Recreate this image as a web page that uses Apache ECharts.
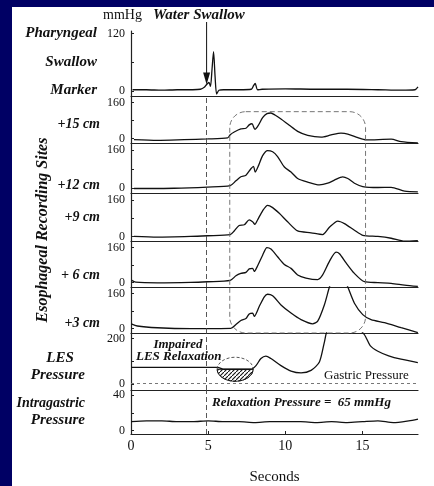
<html>
<head>
<meta charset="UTF-8">
<script src="https://cdn.jsdelivr.net/npm/echarts@6/dist/echarts.min.js"></script>
<title>LES relaxation</title>
<style>
  body { margin: 0; background: #fff; }
</style>
</head>
<body>
<div id="main" style="width: 434px; height: 486px;"></div>
<script type="text/javascript">
	// time axis, seconds
	var secMax = 18.6;
	var swallowAt = 4.9;
	var boxFrom = 6.4, boxTo = 15.2;

	// pharyngeal swallow marker (mmHg)
	var phT = [0.1, 1, 2, 3, 4, 4.5, 4.75, 4.9, 5.05, 5.15, 5.25, 5.35, 5.45, 5.55, 5.7, 6, 7, 7.8, 7.95, 8.05, 8.2, 8.5, 10, 12, 14, 16, 17.5, 18.4, 18.6];
	var phV = [3, 3, 2, 3, 3, 4, 8, 14, 18, 10, 45, 82, 30, -6, 2, 3, 3, 4, 12, 16, 3, 4, 5, 4, 4, 3, 2, 3, 9];

	// esophageal recording sites (mmHg)
	var s15T = [0.19, 1.71, 3.44, 4.96, 6.26, 6.43, 6.69, 7.12, 7.45, 7.66, 7.84, 8.03, 8.25, 8.53, 8.81, 9.07, 9.33, 9.72, 10.26, 10.8, 11.45, 12.32, 12.97, 13.61, 14.05, 14.7, 15.24, 16.86, 17.51, 18.59];
	var s15V = [-5, -8, -5, -2, 3, 17, 29, 43, 46, 61, 66, 41, 59, 93, 111, 114, 105, 87, 59, 32, 14, 6, 16, 24, 20, 4, -6, -3, -14, -20];

	var s12T = [0.19, 2.79, 4.96, 6.43, 6.8, 7.12, 7.45, 7.77, 7.94, 8.05, 8.27, 8.53, 8.85, 9.18, 9.5, 9.94, 10.37, 10.8, 11.45, 12.21, 12.75, 13.18, 13.72, 14.05, 14.48, 15.02, 16, 16.86, 17.73, 18.59];
	var s12V = [-1, 0, 5, 11, 31, 48, 55, 82, 92, 68, 96, 137, 158, 153, 133, 89, 68, 41, 26, 14, 21, 34, 48, 41, 21, 7, 3, 4, -12, -15];

	var s9T = [0.19, 1.71, 3.87, 4.96, 6.43, 6.69, 7.01, 7.34, 7.66, 7.88, 8.03, 8.2, 8.53, 8.85, 9.18, 9.61, 10.15, 10.8, 11.67, 12.42, 12.86, 13.4, 13.83, 14.48, 15.02, 16, 16.86, 17.73, 18.59];
	var s9V = [0, -3, 0, 3, 8, 24, 48, 51, 72, 64, 53, 72, 112, 136, 126, 101, 64, 24, 16, 8, 40, 67, 56, 27, 5, 0, -8, -21, -18];

	var s6T = [0.05, 0.3, 1.71, 3.87, 4.96, 6.43, 6.8, 7.12, 7.45, 7.66, 7.88, 7.99, 8.2, 8.53, 8.81, 9.07, 9.5, 9.94, 10.37, 10.8, 11.34, 12.1, 12.42, 12.86, 13.29, 13.51, 13.94, 14.48, 15.13, 16, 16.86, 17.73, 18.59];
	var s6V = [10, 2, -1, 1, 4, 10, 31, 42, 47, 63, 65, 51, 76, 125, 160, 153, 118, 83, 65, 35, 21, 14, 35, 97, 139, 132, 90, 42, 4, 0, -3, -11, -17];

	var s3T = [0.02, 0.41, 1.71, 3.87, 6.47, 6.8, 7.12, 7.45, 7.66, 7.88, 7.99, 8.31, 8.64, 8.85, 9.18, 9.72, 10.37, 11.02, 11.77, 12.1, 12.53, 12.86, 13.4, 14.05, 14.48, 15.02, 15.56, 16.43, 17.51, 18.59];
	var s3V = [22, 12, 4, 0, 1, 19, 37, 46, 67, 71, 56, 101, 145, 157, 150, 108, 71, 41, 22, 34, 108, 190, 300, 190, 116, 64, 41, 27, 4, -18];

	// LES pressure (mmHg)
	var lesT = [0.02, 5.61, 6.04, 7.77, 8.1, 8.42, 8.74, 9.07, 9.72, 10.37, 11.02, 11.67, 12.21, 12.53, 12.75, 13.8, 15.1, 15.5, 16, 16.7, 17.5, 18.59];
	var lesV = [74, 74, 66, 66, 82, 113, 124, 113, 82, 58, 50, 61, 98, 184, 240, 300, 220, 170, 145, 125, 110, 95];
	var gastricLevel = 3;
	var relaxLevel = 66;

	// intragastric pressure (mmHg)
	var igT = [0, 1, 2, 3, 4, 5, 6, 7, 8, 9, 10, 11, 12, 13, 14, 15, 16, 17, 18, 18.6];
	var igV = [10, 11, 11, 10, 10, 11, 10, 10, 9, 10, 10, 10, 9, 10, 9, 10, 11, 9, 11, 13];

	var serif = '"Liberation Serif", "DejaVu Serif", serif';

	var panels = [
		{ t: phT, v: phV, top: 31, bottom: 96, min: -10, max: 125, labels: [0, 120], ticks: [0, 60, 120] },
		{ t: s15T, v: s15V, top: 96, bottom: 143, min: -20, max: 190, labels: [0, 160], ticks: [0, 80, 160] },
		{ t: s12T, v: s12V, top: 143, bottom: 193, min: -20, max: 190, labels: [0, 160], ticks: [0, 80, 160] },
		{ t: s9T, v: s9V, top: 193, bottom: 241, min: -20, max: 190, labels: [0, 160], ticks: [0, 80, 160] },
		{ t: s6T, v: s6V, top: 241, bottom: 287, min: -20, max: 190, labels: [0, 160], ticks: [0, 80, 160] },
		{ t: s3T, v: s3V, top: 287, bottom: 333, min: -20, max: 190, labels: [0, 160], ticks: [0, 80, 160] },
		{ t: lesT, v: lesV, top: 333, bottom: 390, min: -25, max: 225, labels: [0, 200], ticks: [0, 100, 200] },
		{ t: igT, v: igV, top: 390, bottom: 441, min: -4, max: 46, labels: [0, 40], ticks: [0, 20, 40] }
	];

	function zip(t, v) {
		return t.map(function (x, i) { return [x, v[i]]; });
	}

	var grids = [], xAxes = [], yAxes = [], series = [];
	var last = panels.length - 1;
	panels.forEach(function (p, i) {
		grids.push({ left: 131, width: 287, top: p.top, height: p.bottom - p.top });
		xAxes.push({
			gridIndex: i, type: 'value', min: 0, max: secMax, interval: 5,
			axisLine: { show: true, onZero: false, lineStyle: { color: '#222', width: 1.2 } },
			axisTick: { show: i == last, inside: true, length: 3, lineStyle: { color: '#222' } },
			axisLabel: { show: i == last, showMaxLabel: false, color: '#111', fontFamily: serif, fontSize: 14, margin: 5 },
			splitLine: { show: false },
			name: i == last ? 'Seconds' : '', nameLocation: 'middle', nameGap: 36,
			nameTextStyle: { color: '#111', fontFamily: serif, fontSize: 15 }
		});
		yAxes.push({
			gridIndex: i, type: 'value', min: p.min, max: p.max,
			axisLine: { show: true, onZero: false, lineStyle: { color: '#222', width: 1.2 } },
			axisTick: { show: true, customValues: p.ticks, length: 3, inside: true, lineStyle: { color: '#222' } },
			axisLabel: { customValues: p.labels, color: '#111', fontFamily: serif, fontSize: 12, margin: 6 },
			splitLine: { show: false }
		});
		var s = {
			type: 'line', xAxisIndex: i, yAxisIndex: i,
			data: zip(p.t, p.v), showSymbol: false, smooth: 0.25, clip: true,
			lineStyle: { color: '#111', width: 1.3 }, silent: true, animation: false
		};
		var ml = [];
		if (i > 0) ml.push({ xAxis: swallowAt });
		if (i == 6) ml.push({ yAxis: gastricLevel, lineStyle: { color: '#777', type: [3, 3], width: 1 } });
		if (ml.length) {
			s.markLine = {
				symbol: 'none', silent: true, label: { show: false }, animation: false,
				lineStyle: { color: '#444', type: [5, 3], width: 0.9 }, data: ml
			};
		}
		series.push(s);
	});

	function txt(id, text, x, y, font, align) {
		return {
			type: 'text', id: id, z: 50,
			style: { text: text, x: x, y: y, font: font, fill: '#111', textAlign: align || 'left', verticalAlign: 'middle' }
		};
	}
	var it = 'italic bold 15px ' + serif;
	var it2 = 'italic bold 14px ' + serif;
	var graphics = [
		{ type: 'rect', id: 'navyL', z: 60, shape: { x: 0, y: 0, width: 12, height: 486 }, style: { fill: '#000064' } },
		{ type: 'rect', id: 'navyT', z: 60, shape: { x: 0, y: 0, width: 434, height: 7 }, style: { fill: '#000064' } },
		txt('mmhg', 'mmHg', 103, 15, '14px ' + serif),
		txt('ws', 'Water Swallow', 153, 15, it),
		txt('ph1', 'Pharyngeal', 97, 33, it, 'right'),
		txt('ph2', 'Swallow', 97, 62, it, 'right'),
		txt('ph3', 'Marker', 97, 90, it, 'right'),
		txt('c15', '+15 cm', 100, 124, it2, 'right'),
		txt('c12', '+12 cm', 100, 185, it2, 'right'),
		txt('c9', '+9 cm', 100, 217, it2, 'right'),
		txt('c6', '+ 6 cm', 100, 275, it2, 'right'),
		txt('c3', '+3 cm', 100, 323, it2, 'right'),
		{
			type: 'text', id: 'eso', z: 50, x: 43, y: 230, rotation: Math.PI / 2,
			style: { text: 'Esophageal Recording Sites', font: 'italic bold 16px ' + serif, fill: '#111', textAlign: 'center', verticalAlign: 'middle' }
		},
		txt('les1', 'LES', 60, 358, it, 'center'),
		txt('les2', 'Pressure', 85, 375, it, 'right'),
		txt('ig1', 'Intragastric', 85, 403, it2, 'right'),
		txt('ig2', 'Pressure', 85, 420, it, 'right'),
		txt('imp1', 'Impaired', 178, 345, 'italic bold 13px ' + serif, 'center'),
		txt('imp2', 'LES Relaxation', 136, 357, 'italic bold 13px ' + serif),
		txt('gp', 'Gastric Pressure', 324, 376, '13px ' + serif),
		txt('rp', 'Relaxation Pressure =  65 mmHg', 212, 403, 'italic bold 13px ' + serif)
	];

	var myChart = echarts.init(document.getElementById('main'));
	myChart.setOption({
		backgroundColor: '#fff',
		animation: false,
		grid: grids,
		xAxis: xAxes,
		yAxis: yAxes,
		series: series,
		graphic: graphics
	});

	// shapes placed from the axes' own scales
	var b1 = myChart.convertToPixel({ gridIndex: 1 }, [boxFrom, 120]);
	var b2 = myChart.convertToPixel({ gridIndex: 5 }, [boxTo, -20]);
	var tip = myChart.convertToPixel({ gridIndex: 0 }, [swallowAt, 14]);
	var ec = myChart.convertToPixel({ gridIndex: 6 }, [6.75, relaxLevel]);
	var rx = 18, ry = 12;
	var half = [];
	for (var k = 0; k <= 24; k++) {
		var a = Math.PI * k / 24;
		half.push([ec[0] + rx * Math.cos(a), ec[1] + ry * Math.sin(a)]);
	}
	var hatch = document.createElement('canvas');
	hatch.width = 4; hatch.height = 4;
	var hc = hatch.getContext('2d');
	hc.strokeStyle = '#111'; hc.lineWidth = 1.1;
	hc.beginPath(); hc.moveTo(-1, 5); hc.lineTo(5, -1); hc.stroke();

	myChart.setOption({
		graphic: [
			{
				type: 'rect', id: 'box', z: 40, silent: true,
				shape: { x: b1[0], y: b1[1], width: b2[0] - b1[0], height: b2[1] - b1[1], r: 16 },
				style: { fill: 'none', stroke: '#666', lineWidth: 0.9, lineDash: [5, 3] }
			},
			{
				type: 'line', id: 'arrowShaft', z: 40,
				shape: { x1: tip[0], y1: 22, x2: tip[0], y2: tip[1] - 6 },
				style: { stroke: '#111', lineWidth: 1 }
			},
			{
				type: 'polygon', id: 'arrowHead', z: 40,
				shape: { points: [[tip[0] - 3.5, tip[1] - 12], [tip[0] + 3.5, tip[1] - 12], [tip[0], tip[1]]] },
				style: { fill: '#111' }
			},
			{
				type: 'ellipse', id: 'relaxRing', z: 40,
				shape: { cx: ec[0], cy: ec[1], rx: rx, ry: ry },
				style: { fill: 'none', stroke: '#444', lineWidth: 0.9, lineDash: [3, 2] }
			},
			{
				type: 'polygon', id: 'relaxHatch', z: 41,
				shape: { points: half },
				style: { fill: { image: hatch, repeat: 'repeat' }, stroke: '#111', lineWidth: 1 }
			}
		]
	});
</script>
</body>
</html>
